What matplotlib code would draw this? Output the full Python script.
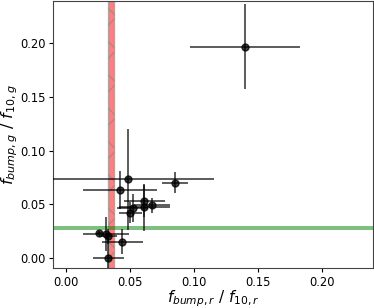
import matplotlib
matplotlib.use("Agg")
import matplotlib.pyplot as plt

x_vals = [0.140, 0.048, 0.085, 0.042, 0.061, 0.067, 0.061, 0.052, 0.050, 0.026, 0.031, 0.033, 0.044, 0.033]
x_errs = [0.043, 0.068, 0.010, 0.029, 0.016, 0.014, 0.020, 0.012, 0.009, 0.002, 0.018, 0.007, 0.016, 0.012]
y_vals = [0.197, 0.073, 0.070, 0.063, 0.053, 0.049, 0.047, 0.046, 0.042, 0.023, 0.022, 0.020, 0.015, 0.000]
y_errs = [0.040, 0.047, 0.010, 0.018, 0.015, 0.007, 0.022, 0.013, 0.010, 0.002, 0.016, 0.007, 0.012, 0.020]

r_band = (0.0325, 0.0375)
g_band = (0.0255, 0.0295)

fig = plt.figure(figsize=(3.74, 3.08), dpi=100)
ax = fig.add_axes([0.1426, 0.129, 0.855, 0.869])

ax.axvspan(r_band[0], r_band[1], facecolor='red', alpha=0.5, hatch='x', edgecolor='gray', zorder=1)
ax.axhspan(g_band[0], g_band[1], color='green', alpha=0.5, lw=0, zorder=1)

ax.errorbar(x_vals, y_vals, xerr=x_errs, yerr=y_errs, fmt='o', color='black',
            ecolor='black', elinewidth=1.2, alpha=0.75, ms=5, zorder=3)

ax.set_xlim(-0.01, 0.24)
ax.set_ylim(-0.01, 0.24)
ax.set_xticks([0.0, 0.05, 0.10, 0.15, 0.20])
ax.set_yticks([0.0, 0.05, 0.10, 0.15, 0.20])
ax.set_xticklabels(['0.00', '0.05', '0.10', '0.15', '0.20'])
ax.set_yticklabels(['0.00', '0.05', '0.10', '0.15', '0.20'])
ax.tick_params(labelsize=8.3, length=3, pad=2.5)
for s in ax.spines.values():
    s.set_edgecolor('#444444')
ax.set_xlabel(r'$f_{bump,r}$ / $f_{10,r}$', fontsize=11)
ax.set_ylabel(r'$f_{bump,g}$ / $f_{10,g}$', fontsize=11.5)
ax.xaxis.set_label_coords(0.5, -0.074)
ax.yaxis.set_label_coords(-0.103, 0.5)

fig.savefig('out.png', dpi=100)
